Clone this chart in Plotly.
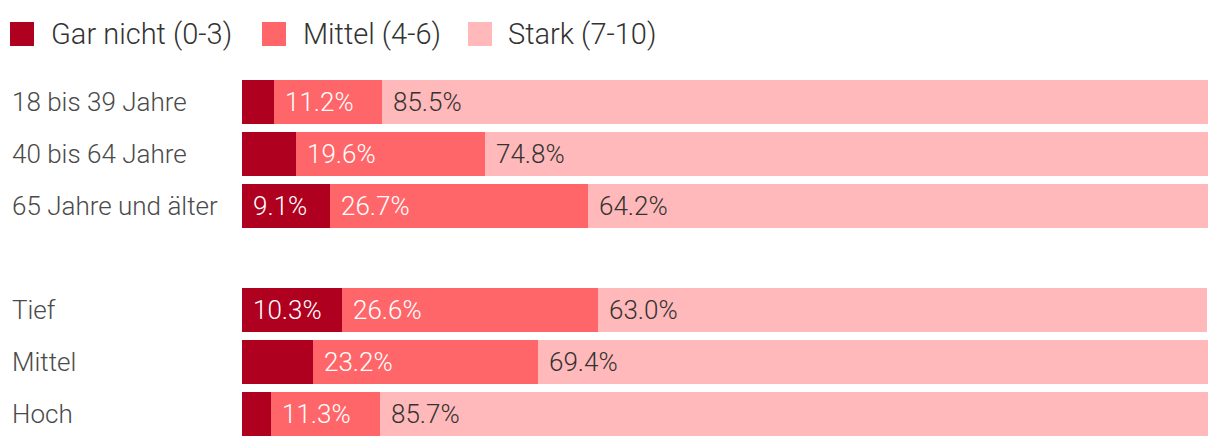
import plotly.graph_objects as go

categories = ["18 bis 39 Jahre", "40 bis 64 Jahre", "65 Jahre und älter", " ", "Tief", "Mittel", "Hoch"]
series_names = ["Gar nicht (0-3)", "Mittel (4-6)", "Stark (7-10)"]
gar_nicht = [3.3, 5.6, 9.1, None, 10.3, 7.4, 3.0]
mittel = [11.2, 19.6, 26.7, None, 26.6, 23.2, 11.3]
stark = [85.5, 74.8, 64.2, None, 63.0, 69.4, 85.7]

colors = ["#b0001f", "#ff6669", "#ffb9ba"]
text_colors = ["#ffffff", "#ffffff", "#333333"]
FONT = "Roboto"
MIN_LABEL = 8.0

series = [gar_nicht, mittel, stark]

fig = go.Figure()
for name, vals, col in zip(series_names, series, colors):
    fig.add_trace(go.Bar(
        y=categories, x=vals, name=name, orientation="h",
        marker=dict(color=col, line=dict(width=0)),
        showlegend=False, hoverinfo="x+name",
    ))

annotations = []
# value labels inside segments
for i, cat in enumerate(categories):
    base = 0.0
    for s, vals in enumerate(series):
        v = vals[i]
        if v is None:
            continue
        if v >= MIN_LABEL:
            annotations.append(dict(
                x=base, y=cat, xref="x", yref="y", text=f"{v:.1f}%",
                showarrow=False, xanchor="left", yanchor="middle", xshift=9,
                font=dict(family=FONT, size=26, color=text_colors[s], weight=300),
            ))
        base += v

# category labels
for cat in categories:
    if cat.strip():
        annotations.append(dict(
            x=0, y=cat, xref="paper", yref="y", text=cat, showarrow=False,
            xanchor="left", yanchor="middle", xshift=-232,
            font=dict(family=FONT, size=26, color="#4a4a4a", weight=300),
        ))

# custom legend
legend_sq_x = [10, 262, 468]
legend_tx_x = [49, 301, 506]
shapes = []
for k, name in enumerate(series_names):
    shapes.append(dict(
        type="rect", xref="paper", yref="paper", xsizemode="pixel", ysizemode="pixel",
        xanchor=0, yanchor=1, x0=legend_sq_x[k] - 242, x1=legend_sq_x[k] - 242 + 24,
        y0=30, y1=54, fillcolor=colors[k], line=dict(width=0),
    ))
    annotations.append(dict(
        x=0, y=1, xref="paper", yref="paper", text=name, showarrow=False,
        xanchor="left", yanchor="middle", xshift=legend_tx_x[k] - 242, yshift=42,
        font=dict(family=FONT, size=29, color="#333333", weight=300),
    ))

fig.update_layout(
    barmode="stack", bargap=0.154,
    width=1212, height=440,
    margin=dict(l=234, r=12, t=68, b=8),
    paper_bgcolor="white", plot_bgcolor="white",
    xaxis=dict(range=[0, 100], visible=False, fixedrange=True),
    yaxis=dict(categoryorder="array", categoryarray=categories, autorange="reversed",
               showticklabels=False, showgrid=False, zeroline=False, fixedrange=True),
    annotations=annotations, shapes=shapes,
    font=dict(family=FONT),
)

fig.write_html("out.html")
